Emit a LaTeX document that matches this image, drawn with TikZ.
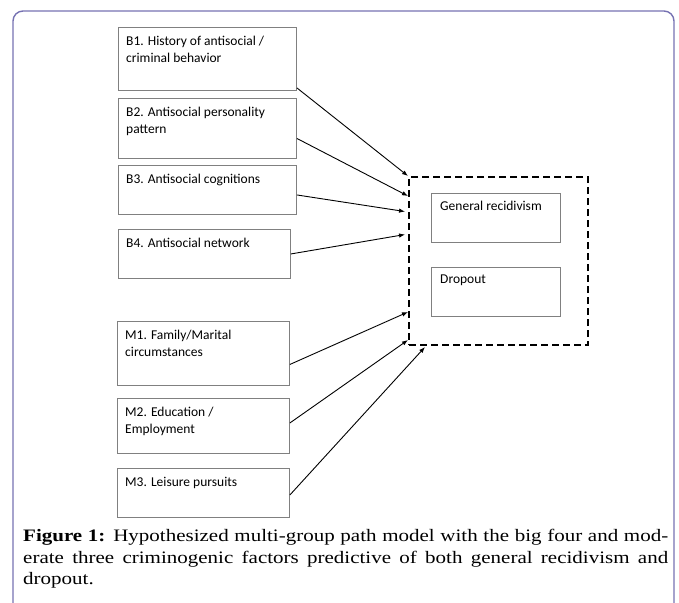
\documentclass[tikz,border=0pt]{standalone}
\usepackage{fontspec}
\setmainfont{Liberation Serif}
\newfontfamily\capfont[FakeStretch=1.2]{Liberation Serif}
\newfontfamily\boxfont{Carlito}
\usetikzlibrary{arrows.meta}
\definecolor{framecol}{RGB}{118,114,178}
\definecolor{boxline}{RGB}{128,128,128}

\begin{document}
\begin{tikzpicture}[x=1pt, y=-1pt,
        factor/.style={draw=boxline, line width=0.9pt, anchor=north west, inner sep=0pt},
        boxtext/.style={anchor=north west, inner sep=0pt, align=left,
            font=\boxfont\fontsize{13.5}{17}\selectfont},
        path/.style={line width=0.9pt, -{Latex[length=6pt, width=4.5pt]}}]
        \useasboundingbox (0,0) rectangle (679,602);

        % Outer frame (open at the bottom)
        \draw[framecol, line width=1.4pt, rounded corners=10pt] (13,610) -- (13,11) -- (674,11) -- (674,610);

        % Big four factors
        \node[factor, minimum width=178pt, minimum height=63pt,
            label={[boxtext, xshift=8pt, yshift=-9pt]north west:B1. History of antisocial /\\criminal behavior}] (b1) at (118,27) {};
        \node[factor, minimum width=178pt, minimum height=60pt,
            label={[boxtext, xshift=8pt, yshift=-9pt]north west:B2. Antisocial personality\\pattern}] (b2) at (118,98) {};
        \node[factor, minimum width=178pt, minimum height=49pt,
            label={[boxtext, xshift=8pt, yshift=-9pt]north west:B3. Antisocial cognitions}] (b3) at (118,165) {};
        \node[factor, minimum width=172pt, minimum height=49pt,
            label={[boxtext, xshift=8pt, yshift=-9pt]north west:B4. Antisocial network}] (b4) at (118,229) {};

        % Moderate three factors
        \node[factor, minimum width=172pt, minimum height=64pt,
            label={[boxtext, xshift=8pt, yshift=-9pt]north west:M1. Family/Marital\\circumstances}] (m1) at (117,321) {};
        \node[factor, minimum width=172pt, minimum height=55pt,
            label={[boxtext, xshift=8pt, yshift=-9pt]north west:M2. Education /\\Employment}] (m2) at (117,398) {};
        \node[factor, minimum width=172pt, minimum height=49pt,
            label={[boxtext, xshift=8pt, yshift=-9pt]north west:M3. Leisure pursuits}] (m3) at (117,468) {};

        % Outcomes
        \node[draw, line width=2pt, dash pattern=on 7pt off 4pt, anchor=north west, inner sep=0pt,
            minimum width=179pt, minimum height=168pt] (out) at (408,176) {};
        \node[factor, minimum width=129pt, minimum height=49pt,
            label={[boxtext, xshift=9pt, yshift=-8pt]north west:General recidivism}] (gr) at (431,193) {};
        \node[factor, minimum width=129pt, minimum height=49pt,
            label={[boxtext, xshift=9pt, yshift=-8pt]north west:Dropout}] (drop) at (431,267) {};

        % Paths
        \draw[path] ([yshift=3pt]b1.south east) -- (out.north west);
        \draw[path] ([yshift=-10pt]b2.east) -- ([yshift=-20pt]out.north west);
        \draw[path, shorten >=3pt] ([yshift=-5pt]b3.east) -- ([yshift=-36pt]out.north west);
        \draw[path, shorten >=3pt] (b4.east) -- ([yshift=-58pt]out.north west);
        \draw[path] ([yshift=-11pt]m1.east) -- ([yshift=34pt]out.south west);
        \draw[path] ([yshift=3pt]m2.east) -- ([yshift=6pt]out.south west);
        \draw[path] ([yshift=-2pt]m3.east) -- ([xshift=17pt, yshift=-1pt]out.south west);

        % Caption
        \node[anchor=north west, inner sep=0pt, text width=645pt, align=justify,
            font=\capfont\fontsize{17.5}{21.5}\selectfont] (cap) at (23,529)
            {\textbf{Figure 1:} Hypothesized multi-group path model with the big four and mod-\linebreak erate three criminogenic factors predictive of both general recidivism and\linebreak dropout.};
    \end{tikzpicture}
\end{document}
